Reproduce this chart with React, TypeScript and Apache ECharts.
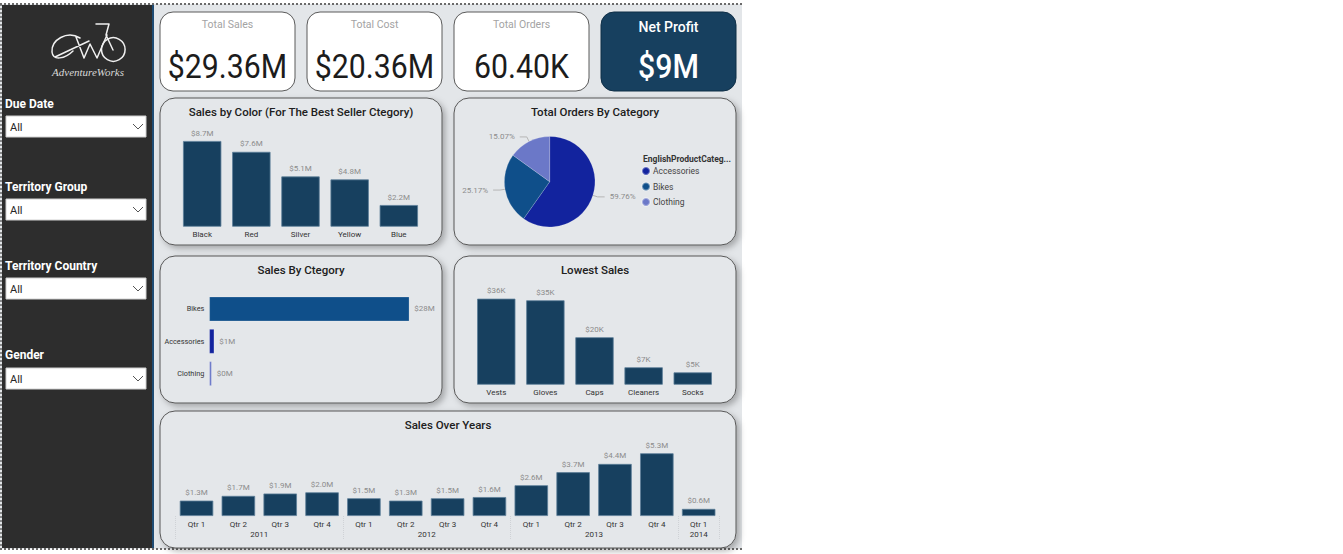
import React, { useEffect, useRef } from "react";
import * as echarts from "echarts";

// ---- data ----
const kpiTitles = ["Total Sales", "Total Cost", "Total Orders", "Net Profit"];
const kpiValues = ["$29.36M", "$20.36M", "60.40K", "$9M"];

const slicerTitles = ["Due Date", "Territory Group", "Territory Country", "Gender"];
const slicerValues = ["All", "All", "All", "All"];

const colorNames = ["Black", "Red", "Silver", "Yellow", "Blue"];
const colorSales = [8.7, 7.6, 5.1, 4.8, 2.2]; // $M

const orderCategories = ["Accessories", "Bikes", "Clothing"];
const orderShares = [59.76, 25.17, 15.07]; // %

const salesCategories = ["Bikes", "Accessories", "Clothing"];
const categorySales = [28.32, 0.7, 0.34]; // $M

const lowestProducts = ["Vests", "Gloves", "Caps", "Cleaners", "Socks"];
const lowestSales = [35.69, 35.02, 19.69, 7.22, 5.11]; // $K

const quarterLabels = [
  "Qtr 1", "Qtr 2", "Qtr 3", "Qtr 4",
  "Qtr 1", "Qtr 2", "Qtr 3", "Qtr 4",
  "Qtr 1", "Qtr 2", "Qtr 3", "Qtr 4",
  "Qtr 1",
];
const quarterYears = [
  "2011", "2011", "2011", "2011",
  "2012", "2012", "2012", "2012",
  "2013", "2013", "2013", "2013",
  "2014",
];
const quarterSales = [1.3, 1.7, 1.9, 2.0, 1.5, 1.3, 1.5, 1.6, 2.6, 3.7, 4.4, 5.3, 0.6]; // $M

// ---- styles ----
const FONT = "Roboto, 'Noto Sans', sans-serif";
const BG = "#e3e6e9";
const PANEL = "#e4e7ea";
const NAVY = "#17405f";
const CATEGORY_COLORS: Record<string, string> = {
  Accessories: "#12239e",
  Bikes: "#0f4f8a",
  Clothing: "#6b78c8",
};

// bicycle logo outline
const LOGO_D =
  "M80,38 C67,30 51,40 52,52 C53,61 65,59 73,51 " +
  "M55,57 L89,41 " +
  "M76,37 L84,58 L90,44 L97,58 L107,35 " +
  "M96,24 L109,24 L106,35 L113,50";
echarts.graphic.registerShape("awLogo", echarts.graphic.extendPath(LOGO_D, {}));

function buildGraphics() {
  const g: any[] = [];
  // canvas background and dotted frame
  g.push({ type: "rect", z: -20, shape: { x: 0, y: 4, width: 742, height: 545 }, style: { fill: BG } });
  const dotted = { stroke: "#6a6a6a", lineWidth: 2, lineDash: [2, 2] };
  g.push({ type: "line", z: -5, shape: { x1: 0, y1: 4, x2: 742, y2: 4 }, style: dotted });
  g.push({ type: "line", z: -5, shape: { x1: 0, y1: 549, x2: 742, y2: 549 }, style: dotted });
  g.push({ type: "line", z: -5, shape: { x1: 1, y1: 4, x2: 1, y2: 549 }, style: { ...dotted, lineWidth: 1.5 } });

  // sidebar
  g.push({ type: "rect", z: -10, shape: { x: 2, y: 5, width: 150, height: 543 }, style: { fill: "#2d2d2d" } });
  g.push({ type: "line", z: -9, shape: { x1: 153, y1: 5, x2: 153, y2: 548 }, style: { stroke: "#1f4c74", lineWidth: 2 } });

  // logo
  g.push({ type: "awLogo", z: 5, x: 0, y: 0, style: { fill: "none", stroke: "#f0f0f0", lineWidth: 1.5, lineCap: "round", lineJoin: "round" } });
  g.push({ type: "circle", z: 5, shape: { cx: 113.3, cy: 49.5, r: 11.8 }, style: { fill: "none", stroke: "#f0f0f0", lineWidth: 1.5 } });
  g.push({
    type: "text", z: 5, x: 88, y: 72,
    style: { text: "AdventureWorks", fill: "#d8d8d8", font: "italic 11px 'Liberation Serif', serif", textAlign: "center", textVerticalAlign: "middle" },
  });

  // slicers
  const labelY = [104, 187, 266, 355];
  const boxY = [116, 199, 278, 368];
  slicerTitles.forEach((t, i) => {
    g.push({
      type: "text", z: 5, x: 5, y: labelY[i],
      style: { text: t, fill: "#ffffff", font: `bold 12px ${FONT}`, textAlign: "left", textVerticalAlign: "middle" },
    });
    g.push({ type: "rect", z: 4, shape: { x: 6, y: boxY[i], width: 140, height: 21 }, style: { fill: "#ffffff", stroke: "#d0d0d0", lineWidth: 1 } });
    g.push({
      type: "text", z: 5, x: 10, y: boxY[i] + 11,
      style: { text: slicerValues[i], fill: "#252525", font: `11px ${FONT}`, textAlign: "left", textVerticalAlign: "middle" },
    });
    g.push({
      type: "polyline", z: 5,
      shape: { points: [[133, boxY[i] + 8], [138, boxY[i] + 13], [143, boxY[i] + 8]] },
      style: { fill: "none", stroke: "#555", lineWidth: 1 },
    });
  });

  // KPI cards
  const cardX = [160, 307, 454, 601];
  kpiTitles.forEach((t, i) => {
    const dark = i === 3;
    g.push({
      type: "rect", z: 0,
      shape: { x: cardX[i], y: 12, width: 135, height: 79, r: 13 },
      style: { fill: dark ? NAVY : "#ffffff", stroke: dark ? "#0f2f47" : "#5a5a5a", lineWidth: 1 },
    });
    g.push({
      type: "text", z: 5, x: cardX[i] + 67.5, y: dark ? 27 : 24,
      style: {
        text: t,
        fill: dark ? "#ffffff" : "#a3a3a3",
        font: dark ? `500 14px ${FONT}` : `10.5px ${FONT}`,
        textAlign: "center", textVerticalAlign: "middle",
      },
    });
    g.push({
      type: "text", z: 5, x: cardX[i] + 67.5, y: 66, scaleX: 0.89,
      style: {
        text: kpiValues[i],
        fill: dark ? "#ffffff" : "#1c1c1c",
        font: `${dark ? 500 : 400} 34px ${FONT}`,
        textAlign: "center", textVerticalAlign: "middle",
      },
    });
  });

  // visual panels
  const panels = [
    { x: 160, y: 98, w: 282, h: 147, title: "Sales by Color (For The Best Seller Ctegory)" },
    { x: 454, y: 98, w: 282, h: 147, title: "Total Orders By Category" },
    { x: 160, y: 256, w: 282, h: 147, title: "Sales By Ctegory" },
    { x: 454, y: 256, w: 282, h: 147, title: "Lowest Sales" },
    { x: 160, y: 411, w: 576, h: 137, title: "Sales Over Years" },
  ];
  panels.forEach((p) => {
    g.push({
      type: "rect", z: -3,
      shape: { x: p.x, y: p.y, width: p.w, height: p.h, r: 15 },
      style: {
        fill: PANEL, stroke: "#575757", lineWidth: 1,
        shadowBlur: 6, shadowOffsetX: 3, shadowOffsetY: 3, shadowColor: "rgba(0,0,0,0.28)",
      },
    });
    g.push({
      type: "text", z: 5, x: p.x + p.w / 2, y: p.y + 14,
      style: { text: p.title, fill: "#202020", font: `500 11.5px ${FONT}`, textAlign: "center", textVerticalAlign: "middle" },
    });
  });

  // pie legend title
  g.push({
    type: "text", z: 5, x: 643, y: 159,
    style: { text: "EnglishProductCateg...", fill: "#333", font: `bold 8.5px ${FONT}`, textAlign: "left", textVerticalAlign: "middle" },
  });
  return g;
}

function buildOption(): echarts.EChartsOption {
  const labelGray = "#8c8c8c";
  const smallCat = { fontSize: 8, color: "#333", fontFamily: FONT };
  const barItem = { color: NAVY, borderColor: "#5c7d98", borderWidth: 0.8 };

  const yearCenters: Record<number, string> = {};
  Array.from(new Set(quarterYears)).forEach((y) => {
    const idx = quarterYears.map((v, i) => (v === y ? i : -1)).filter((i) => i >= 0);
    const mid = (idx[0] + idx[idx.length - 1]) / 2;
    yearCenters[Math.round(mid * 2)] = y;
  });

  return {
    animation: false,
    textStyle: { fontFamily: FONT },
    graphic: buildGraphics(),
    grid: [
      { left: 177.6, top: 128.2, width: 245.8, height: 98.5 },
      { left: 209.3, top: 292.8, width: 211.9, height: 97 },
      { left: 471.7, top: 288.3, width: 245.6, height: 96.4 },
      { left: 175.6, top: 445, width: 544, height: 71 },
    ],
    xAxis: [
      {
        gridIndex: 0, type: "category", data: colorNames,
        axisLine: { show: false }, axisTick: { show: false },
        axisLabel: { ...smallCat, margin: 4 },
      },
      { gridIndex: 1, type: "value", min: 0, max: 30, show: false },
      {
        gridIndex: 2, type: "category", data: lowestProducts,
        axisLine: { show: false }, axisTick: { show: false },
        axisLabel: { ...smallCat, margin: 4 },
      },
      {
        gridIndex: 3, type: "category", data: quarterLabels,
        axisLine: { show: false },
        axisTick: {
          show: true, length: 24,
          interval: (i: number) => i === 0 || quarterYears[i] !== quarterYears[i - 1],
          lineStyle: { color: "#cfd2d6", type: "dotted", width: 1 },
        },
        axisLabel: { ...smallCat, margin: 4 },
      },
      {
        gridIndex: 3, type: "value", min: -0.5, max: 12.5, interval: 0.5,
        position: "bottom",
        axisLine: { show: false }, axisTick: { show: false }, splitLine: { show: false },
        axisLabel: {
          ...smallCat, margin: 14, showMinLabel: true, showMaxLabel: true,
          formatter: (v: number) => yearCenters[Math.round(v * 2)] || "",
        },
      },
    ],
    yAxis: [
      { gridIndex: 0, type: "value", min: 0, max: 10, show: false },
      {
        gridIndex: 1, type: "category", data: salesCategories, inverse: true,
        axisLine: { show: false }, axisTick: { show: false },
        axisLabel: { ...smallCat, fontSize: 7.3, margin: 5 },
      },
      { gridIndex: 2, type: "value", min: 0, max: 40, show: false },
      { gridIndex: 3, type: "value", min: 0, max: 6, show: false },
    ],
    legend: {
      data: orderCategories,
      orient: "vertical", left: 641, top: 166, padding: 0,
      icon: "circle", itemWidth: 8, itemHeight: 8, itemGap: 5.5,
      textStyle: { fontSize: 8.5, color: "#444", fontFamily: FONT, lineHeight: 10, padding: [0, 0, 0, -2] },
    },
    series: [
      {
        type: "bar", xAxisIndex: 0, yAxisIndex: 0, data: colorSales,
        barCategoryGap: "22%", itemStyle: barItem,
        label: {
          show: true, position: "top", distance: 4, fontSize: 8, color: labelGray,
          formatter: (p: any) => `$${p.value.toFixed(1)}M`,
        },
      },
      {
        type: "bar", xAxisIndex: 1, yAxisIndex: 1,
        data: categorySales.map((v, i) => ({ value: v, itemStyle: { color: CATEGORY_COLORS[salesCategories[i]] } })),
        barCategoryGap: "24%", itemStyle: { borderColor: "rgba(255,255,255,0.35)", borderWidth: 0.6 },
        label: {
          show: true, position: "right", distance: 5, fontSize: 8, color: labelGray,
          formatter: (p: any) => `$${Math.round(p.value)}M`,
        },
      },
      {
        type: "bar", xAxisIndex: 2, yAxisIndex: 2, data: lowestSales,
        barCategoryGap: "22%", itemStyle: barItem,
        label: {
          show: true, position: "top", distance: 4, fontSize: 8, color: labelGray,
          formatter: (p: any) => `$${Math.round(p.value)}K`,
        },
      },
      {
        type: "bar", xAxisIndex: 3, yAxisIndex: 3, data: quarterSales,
        barCategoryGap: "20%", itemStyle: barItem,
        label: {
          show: true, position: "top", distance: 4, fontSize: 8, color: labelGray,
          formatter: (p: any) => `$${p.value.toFixed(1)}M`,
        },
      },
      {
        type: "pie", center: [549.7, 181.7], radius: 45.3, startAngle: 90, clockwise: true,
        data: orderCategories.map((c, i) => ({ name: c, value: orderShares[i], itemStyle: { color: CATEGORY_COLORS[c] } })),
        itemStyle: { borderColor: "rgba(255,255,255,0.35)", borderWidth: 0.5 },
        label: {
          show: true, position: "outside", fontSize: 8, color: labelGray,
          formatter: (p: any) => `${p.value.toFixed(2)}%`,
        },
        labelLine: { show: true, length: 5, length2: 7, lineStyle: { color: "#b5b5b5", width: 1 } },
        emphasis: { disabled: true },
      },
    ],
  } as any;
}

export default function App() {
  const ref = useRef<HTMLDivElement>(null);
  useEffect(() => {
    if (!ref.current) return;
    const chart = echarts.init(ref.current, undefined, { renderer: "svg" });
    chart.setOption(buildOption());
    return () => chart.dispose();
  }, []);
  return (
    <div
      ref={ref}
      style={{ position: "absolute", left: 0, top: 0, width: 1343, height: 554, background: "#ffffff" }}
    />
  );
}
